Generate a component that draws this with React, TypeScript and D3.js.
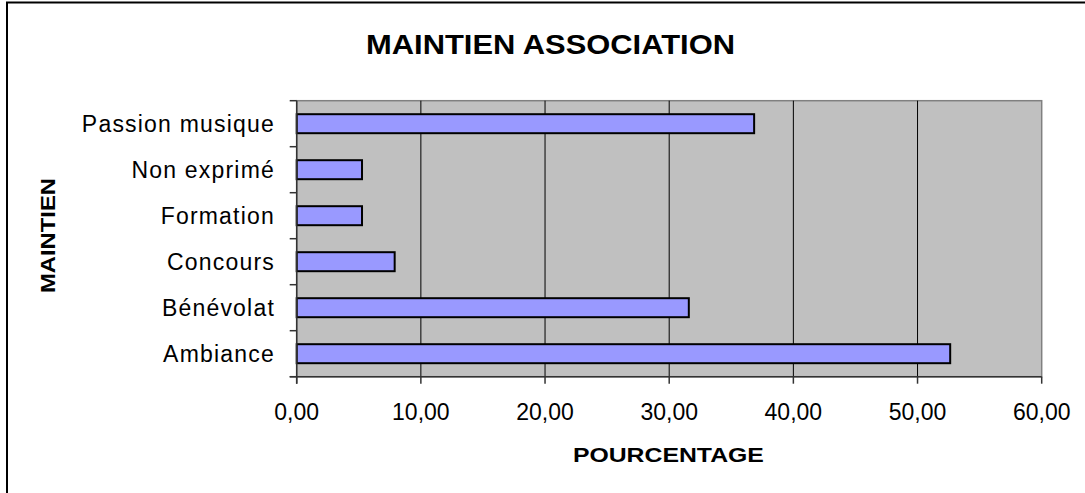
import React from "react";
import * as d3 from "d3";

const categories = ["Passion musique", "Non exprimé", "Formation", "Concours", "Bénévolat", "Ambiance"];
const values = [36.84, 5.26, 5.26, 7.89, 31.58, 52.63];
const xTicks = [0, 10, 20, 30, 40, 50, 60];

const W = 1085;
const H = 493;
const plot = { left: 296.7, right: 1041.7, top: 100.7, bottom: 376.7 };
const FONT = "'Liberation Sans', Arial, sans-serif";

export default function App() {
  const x = d3.scaleLinear().domain([0, 60]).range([plot.left, plot.right]);
  const y = d3.scaleBand<string>().domain(categories).range([plot.top, plot.bottom]).padding(0);
  const step = y.step();
  const barH = step * 0.413;
  const fmt = (v: number) => v.toFixed(2).replace(".", ",");
  const boundaries = d3.range(categories.length + 1).map((i) => plot.top + i * step);

  return (
    <svg width={W} height={H} style={{ position: "absolute", left: 0, top: 0, background: "#fff" }}>
      <rect x={7} y={2.5} width={1200} height={700} fill="#fff" stroke="#000" strokeWidth={2} />
      <text x={550.5} y={54.3} textAnchor="middle" fontFamily={FONT} fontWeight="bold" fontSize={28}
        textLength={369} lengthAdjust="spacingAndGlyphs">MAINTIEN ASSOCIATION</text>

      <rect x={plot.left} y={plot.top} width={plot.right - plot.left} height={plot.bottom - plot.top}
        fill="#C0C0C0" stroke="#808080" strokeWidth={1.5} />
      {xTicks.slice(1, -1).map((t) => (
        <line key={"g" + t} x1={x(t)} x2={x(t)} y1={plot.top} y2={plot.bottom} stroke="#000" strokeWidth={1} />
      ))}
      {values.map((v, i) => (
        <rect key={categories[i]} x={x(0)} y={(y(categories[i]) as number) + (step - barH) / 2}
          width={x(v) - x(0)} height={barH} fill="#9999FF" stroke="#000" strokeWidth={2} />
      ))}
      <line x1={plot.left} x2={plot.left} y1={plot.top} y2={plot.bottom + 7} stroke="#333" strokeWidth={1.5} />
      <line x1={plot.left - 7} x2={plot.right} y1={plot.bottom} y2={plot.bottom} stroke="#333" strokeWidth={1.5} />
      {boundaries.map((b, i) => (
        <line key={"yt" + i} x1={plot.left - 7} x2={plot.left} y1={b} y2={b} stroke="#333" strokeWidth={1.5} />
      ))}
      {xTicks.map((t) => (
        <g key={"xt" + t}>
          <line x1={x(t)} x2={x(t)} y1={plot.bottom} y2={plot.bottom + 7} stroke="#333" strokeWidth={1.5} />
          <text x={x(t)} y={420} textAnchor="middle" fontFamily={FONT} fontSize={23}>{fmt(t)}</text>
        </g>
      ))}
      {categories.map((c) => (
        <text key={"cl" + c} x={275} y={(y(c) as number) + step / 2 + 8} textAnchor="end"
          fontFamily={FONT} fontSize={23} letterSpacing={1.2}>{c}</text>
      ))}
      <text x={668.4} y={461.7} textAnchor="middle" fontFamily={FONT} fontWeight="bold" fontSize={21}
        textLength={191} lengthAdjust="spacingAndGlyphs">POURCENTAGE</text>
      <text transform="translate(55,235.5) rotate(-90)" textAnchor="middle" fontFamily={FONT}
        fontWeight="bold" fontSize={21} textLength={115} lengthAdjust="spacingAndGlyphs">MAINTIEN</text>
    </svg>
  );
}
